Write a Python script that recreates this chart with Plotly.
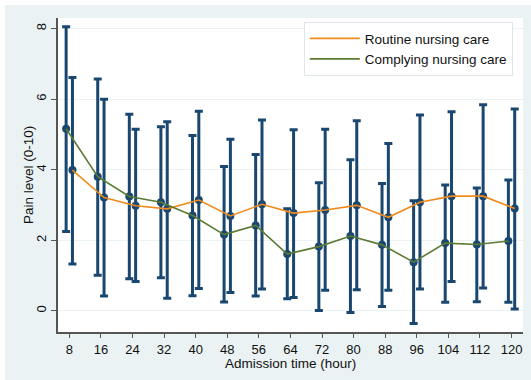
import plotly.graph_objects as go

hours = [8, 16, 24, 32, 40, 48, 56, 64, 72, 80, 88, 96, 104, 112, 120]

routine_mean = [3.99, 3.21, 2.98, 2.89, 3.14, 2.69, 3.02, 2.77, 2.86, 2.99, 2.65, 3.08, 3.25, 3.25, 2.90]
routine_upper = [6.61, 6.00, 5.15, 5.36, 5.66, 4.86, 5.41, 5.13, 5.15, 5.39, 4.74, 5.55, 5.64, 5.84, 5.72]
routine_lower = [1.33, 0.42, 0.83, 0.36, 0.63, 0.52, 0.62, 0.38, 0.58, 0.60, 0.58, 0.62, 0.83, 0.65, 0.05]

comply_mean = [5.16, 3.80, 3.24, 3.08, 2.70, 2.16, 2.42, 1.61, 1.82, 2.12, 1.87, 1.38, 1.92, 1.88, 1.98]
comply_upper = [8.05, 6.57, 5.57, 5.22, 4.97, 4.09, 4.43, 2.89, 3.63, 4.28, 3.61, 3.12, 3.57, 3.48, 3.71]
comply_lower = [2.25, 1.01, 0.91, 0.94, 0.43, 0.25, 0.42, 0.34, 0.01, -0.05, 0.12, -0.36, 0.24, 0.26, 0.24]

x_title = "Admission time (hour)"
y_title = "Pain level (0-10)"

OFFSET = 0.8
NAVY = "#1a476f"
ORANGE = "#ef8b1d"
GREEN = "#5b7a33"
BG = "#eaf2f3"

x_comply = [h - OFFSET for h in hours]
x_routine = [h + OFFSET for h in hours]

def errs(mean, up, lo):
    return [u - m for u, m in zip(up, mean)], [m - l for m, l in zip(mean, lo)]

cu, cl = errs(comply_mean, comply_upper, comply_lower)
ru, rl = errs(routine_mean, routine_upper, routine_lower)

fig = go.Figure()
fig.add_trace(go.Scatter(
    x=x_comply, y=comply_mean, mode="markers", showlegend=False,
    marker=dict(color=NAVY, size=8),
    error_y=dict(type="data", symmetric=False, array=cu, arrayminus=cl,
                 color=NAVY, thickness=3, width=4),
))
fig.add_trace(go.Scatter(
    x=x_routine, y=routine_mean, mode="markers", showlegend=False,
    marker=dict(color=NAVY, size=8),
    error_y=dict(type="data", symmetric=False, array=ru, arrayminus=rl,
                 color=NAVY, thickness=3, width=4),
))
fig.add_trace(go.Scatter(
    x=x_routine, y=routine_mean, mode="lines", name="Routine nursing care",
    line=dict(color=ORANGE, width=1.6),
))
fig.add_trace(go.Scatter(
    x=x_comply, y=comply_mean, mode="lines", name="Complying nursing care",
    line=dict(color=GREEN, width=1.6),
))

font = "Liberation Sans, Arial, sans-serif"
fig.update_layout(
    width=531, height=380,
    margin=dict(l=58, r=8, t=18, b=48, autoexpand=False),
    paper_bgcolor=BG,
    plot_bgcolor="white",
    font=dict(family=font, size=13, color="#111"),
    xaxis=dict(
        range=[5.14, 122.9], tickmode="array", tickvals=hours,
        ticktext=[str(h) for h in hours],
        showgrid=False, zeroline=False,
        showline=True, linecolor="#555", linewidth=2,
        ticks="outside", ticklen=4, tickcolor="#555", tickwidth=1,
    ),
    yaxis=dict(
        range=[-0.6, 8.3], tickvals=[0, 2, 4, 6, 8],
        showgrid=True, gridcolor=BG, gridwidth=1, zeroline=False,
        showline=True, linecolor="#555", linewidth=2,
        ticks="outside", ticklen=5, tickcolor="#555", tickwidth=1,
        tickangle=-90,
    ),
    legend=dict(
        x=0.978, xanchor="right", y=0.987, yanchor="top",
        bgcolor="white", bordercolor="#dfe6e8", borderwidth=1,
        font=dict(size=13.5), itemwidth=50, tracegroupgap=0,
    ),
    annotations=[
        dict(text=x_title, xref="paper", yref="paper", x=0.499, y=-0.1,
             xanchor="center", yanchor="middle", showarrow=False,
             font=dict(size=13.5)),
        dict(text=y_title, xref="paper", yref="paper", x=-0.0645, y=0.5,
             xanchor="center", yanchor="middle", showarrow=False,
             textangle=-90, font=dict(size=13.5)),
    ],
    shapes=[
        dict(type="rect", xref="paper", yref="paper", x0=-0.2, x1=1.1,
             y0=1.0 + 13 / 314, y1=1.2, fillcolor="white", line=dict(width=0),
             layer="below"),
        dict(type="rect", xref="paper", yref="paper", x0=-0.2, x1=-53 / 465,
             y0=-0.3, y1=1.2, fillcolor="white", line=dict(width=0),
             layer="below"),
    ],
)

fig.write_html("out.html", config={"displayModeBar": False},
               post_script="document.body.style.margin='0';document.body.style.padding='0';")
